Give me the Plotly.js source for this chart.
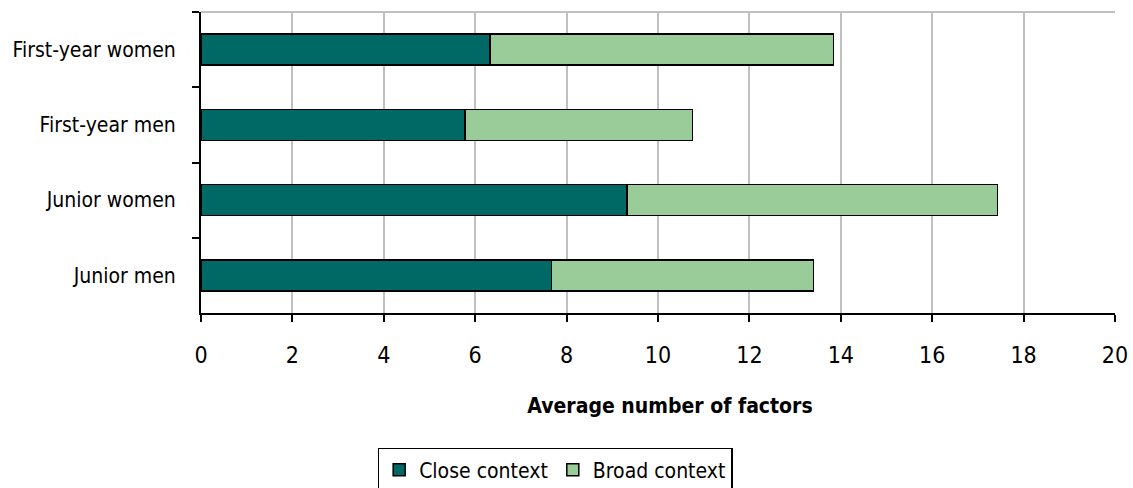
<!DOCTYPE html>
<html>
<head>
<meta charset="utf-8">
<script src="https://cdn.plot.ly/plotly-3.0.1.min.js"></script>
<style>html,body{margin:0;padding:0;background:#fff;}#chart{width:1133px;height:488px;}</style>
</head>
<body>
<div id="chart"></div>
<script>
const categories = ["First-year women", "First-year men", "Junior women", "Junior men"];
const closeContext = [6.32, 5.78, 9.32, 7.67];
const broadContext = [7.52, 4.97, 8.11, 5.73];
const xTicks = [0, 2, 4, 6, 8, 10, 12, 14, 16, 18, 20];

const FONT = '"DejaVu Sans Condensed", "Liberation Sans Narrow", Arial, sans-serif';

const traces = [
  {
    type: 'bar', orientation: 'h', name: 'Close context',
    y: categories, x: closeContext,
    marker: {color: '#006966', line: {color: '#000', width: 1.5}}
  },
  {
    type: 'bar', orientation: 'h', name: 'Broad context',
    y: categories, x: broadContext,
    marker: {color: '#99cc99', line: {color: '#000', width: 1.5}}
  }
];

const layout = {
  width: 1133, height: 488,
  margin: {l: 201, r: 18, t: 12, b: 175, autoexpand: false},
  barmode: 'stack',
  bargap: 0.59,
  paper_bgcolor: '#fff', plot_bgcolor: '#fff',
  font: {family: FONT, color: '#000', size: 20},
  showlegend: true,
  xaxis: {
    range: [0, 20], tickvals: xTicks, ticktext: xTicks.map(String),
    showgrid: true, gridcolor: '#c0c0c0', gridwidth: 2,
    showline: true, linecolor: '#000', linewidth: 2,
    ticks: 'outside', ticklen: 7, tickwidth: 2, tickcolor: '#000',
    ticklabelstandoff: 13,
    tickfont: {size: 23, family: FONT},
    zeroline: false,
    title: {text: '&nbsp;&nbsp;&nbsp;&nbsp;<b>Average number of factors</b>', font: {size: 21, family: FONT}, standoff: 32}
  },
  yaxis: {
    type: 'category', autorange: 'reversed',
    showline: true, linecolor: '#000', linewidth: 2,
    ticks: 'outside', tickson: 'boundaries', ticklen: 7, tickwidth: 2, tickcolor: '#000',
    tickfont: {size: 21, family: FONT},
    showgrid: false, ticklabelstandoff: 19
  },
  shapes: [
    {type: 'line', xref: 'paper', yref: 'paper', x0: 0, x1: 1, y0: 1, y1: 1, line: {color: '#c0c0c0', width: 2}}
  ],
  legend: {
    orientation: 'h', traceorder: 'normal',
    xref: 'container', yref: 'container',
    x: 0.49, xanchor: 'center', y: 0.082, yanchor: 'top',
    bordercolor: '#000', borderwidth: 1.5, bgcolor: '#fff',
    font: {size: 21, family: FONT},
    itemwidth: 30
  }
};

Plotly.newPlot('chart', traces, layout, {displayModeBar: false, staticPlot: true});
</script>
</body>
</html>
